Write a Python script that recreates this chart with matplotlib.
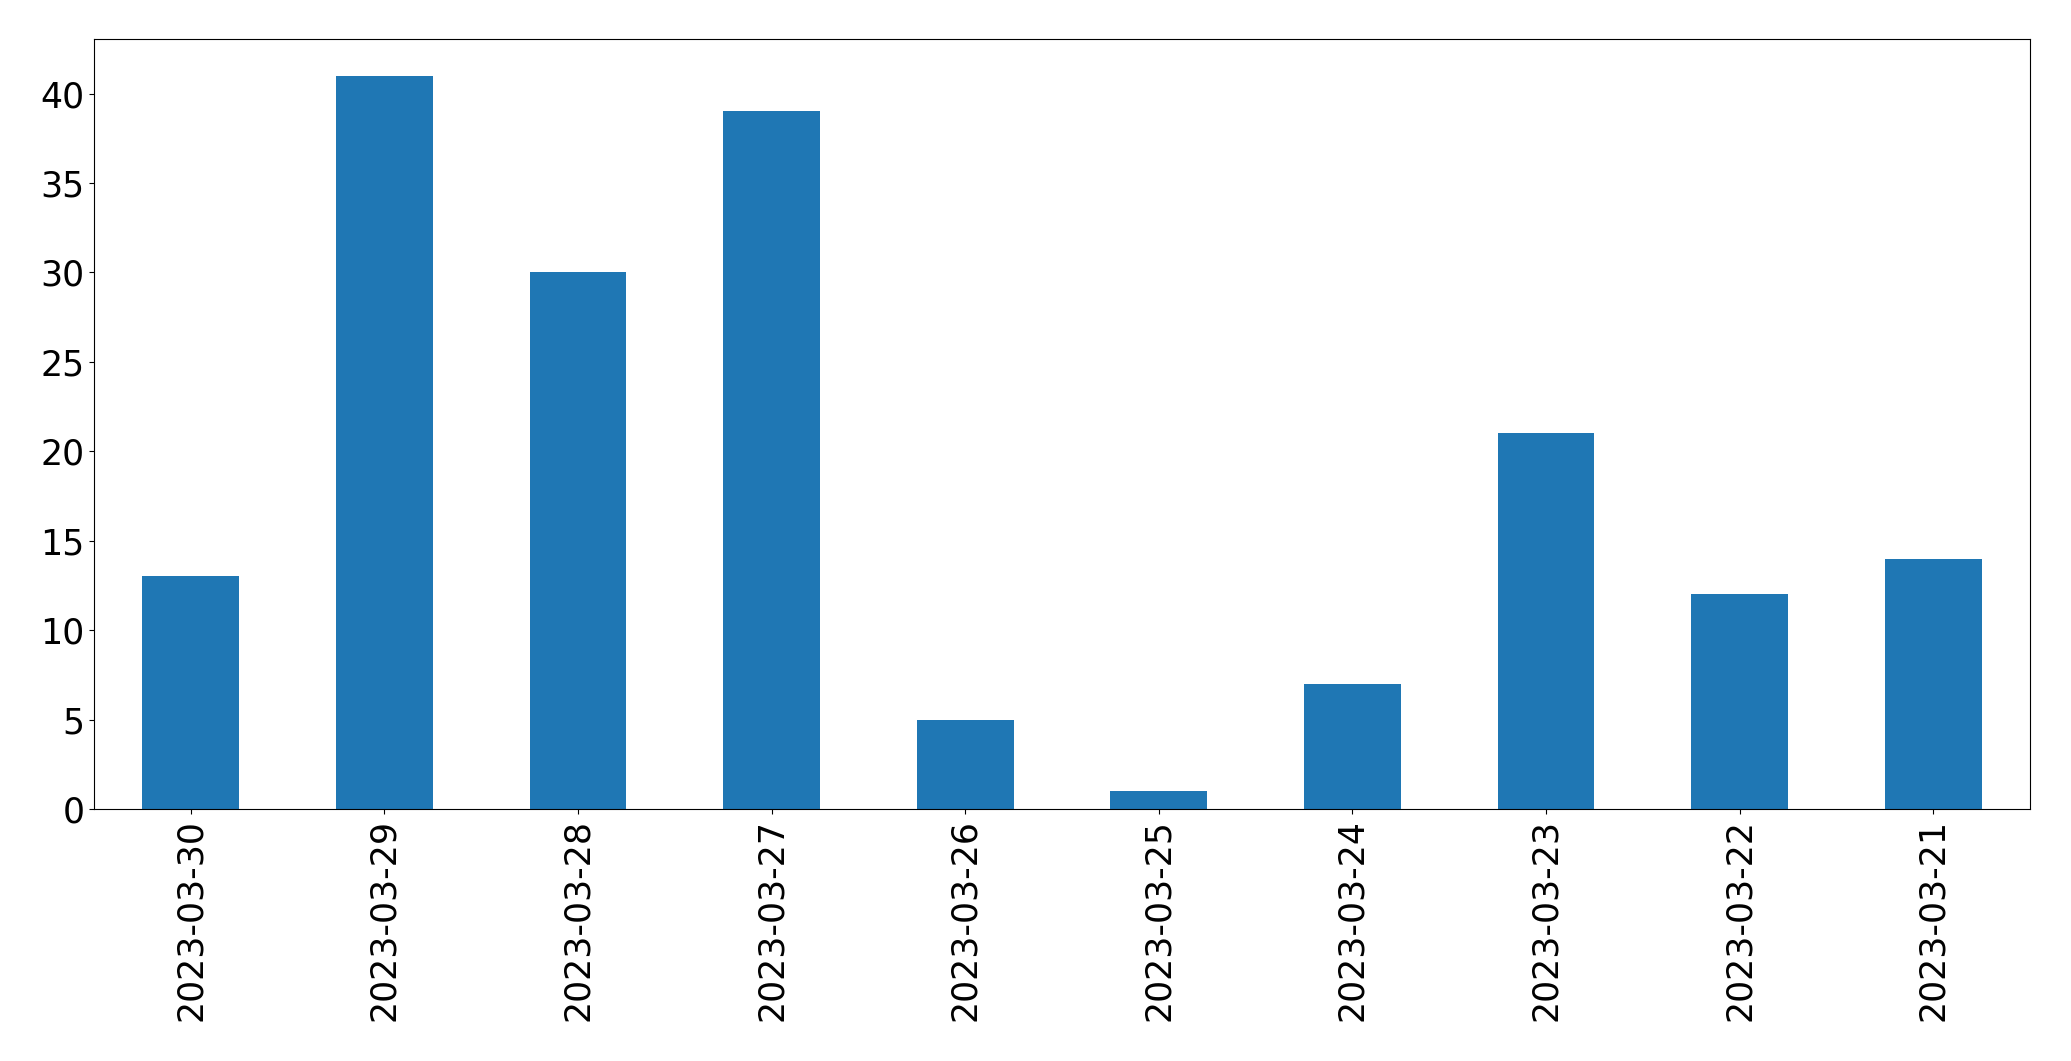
import matplotlib
matplotlib.use("Agg")
import matplotlib.pyplot as plt
import numpy as np

dates = ["2023-03-30", "2023-03-29", "2023-03-28", "2023-03-27", "2023-03-26",
         "2023-03-25", "2023-03-24", "2023-03-23", "2023-03-22", "2023-03-21"]
counts = [13, 41, 30, 39, 5, 1, 7, 21, 12, 14]

fig = plt.figure(figsize=(20.71, 10.61), dpi=100)
ax = fig.add_axes([94/2071, 1-809/1061, (2030-94)/2071, (809-39)/1061])
x = np.arange(len(dates))
ax.bar(x, counts, width=0.5, color="#1f77b4")
ax.set_xlim(-0.5, len(dates)-0.5)
ax.set_ylim(0, max(counts)*1.05)
ax.set_xticks(x)
ax.set_xticklabels(dates, rotation=90)
ax.tick_params(labelsize=25)
fig.savefig("out.png", dpi=100)
